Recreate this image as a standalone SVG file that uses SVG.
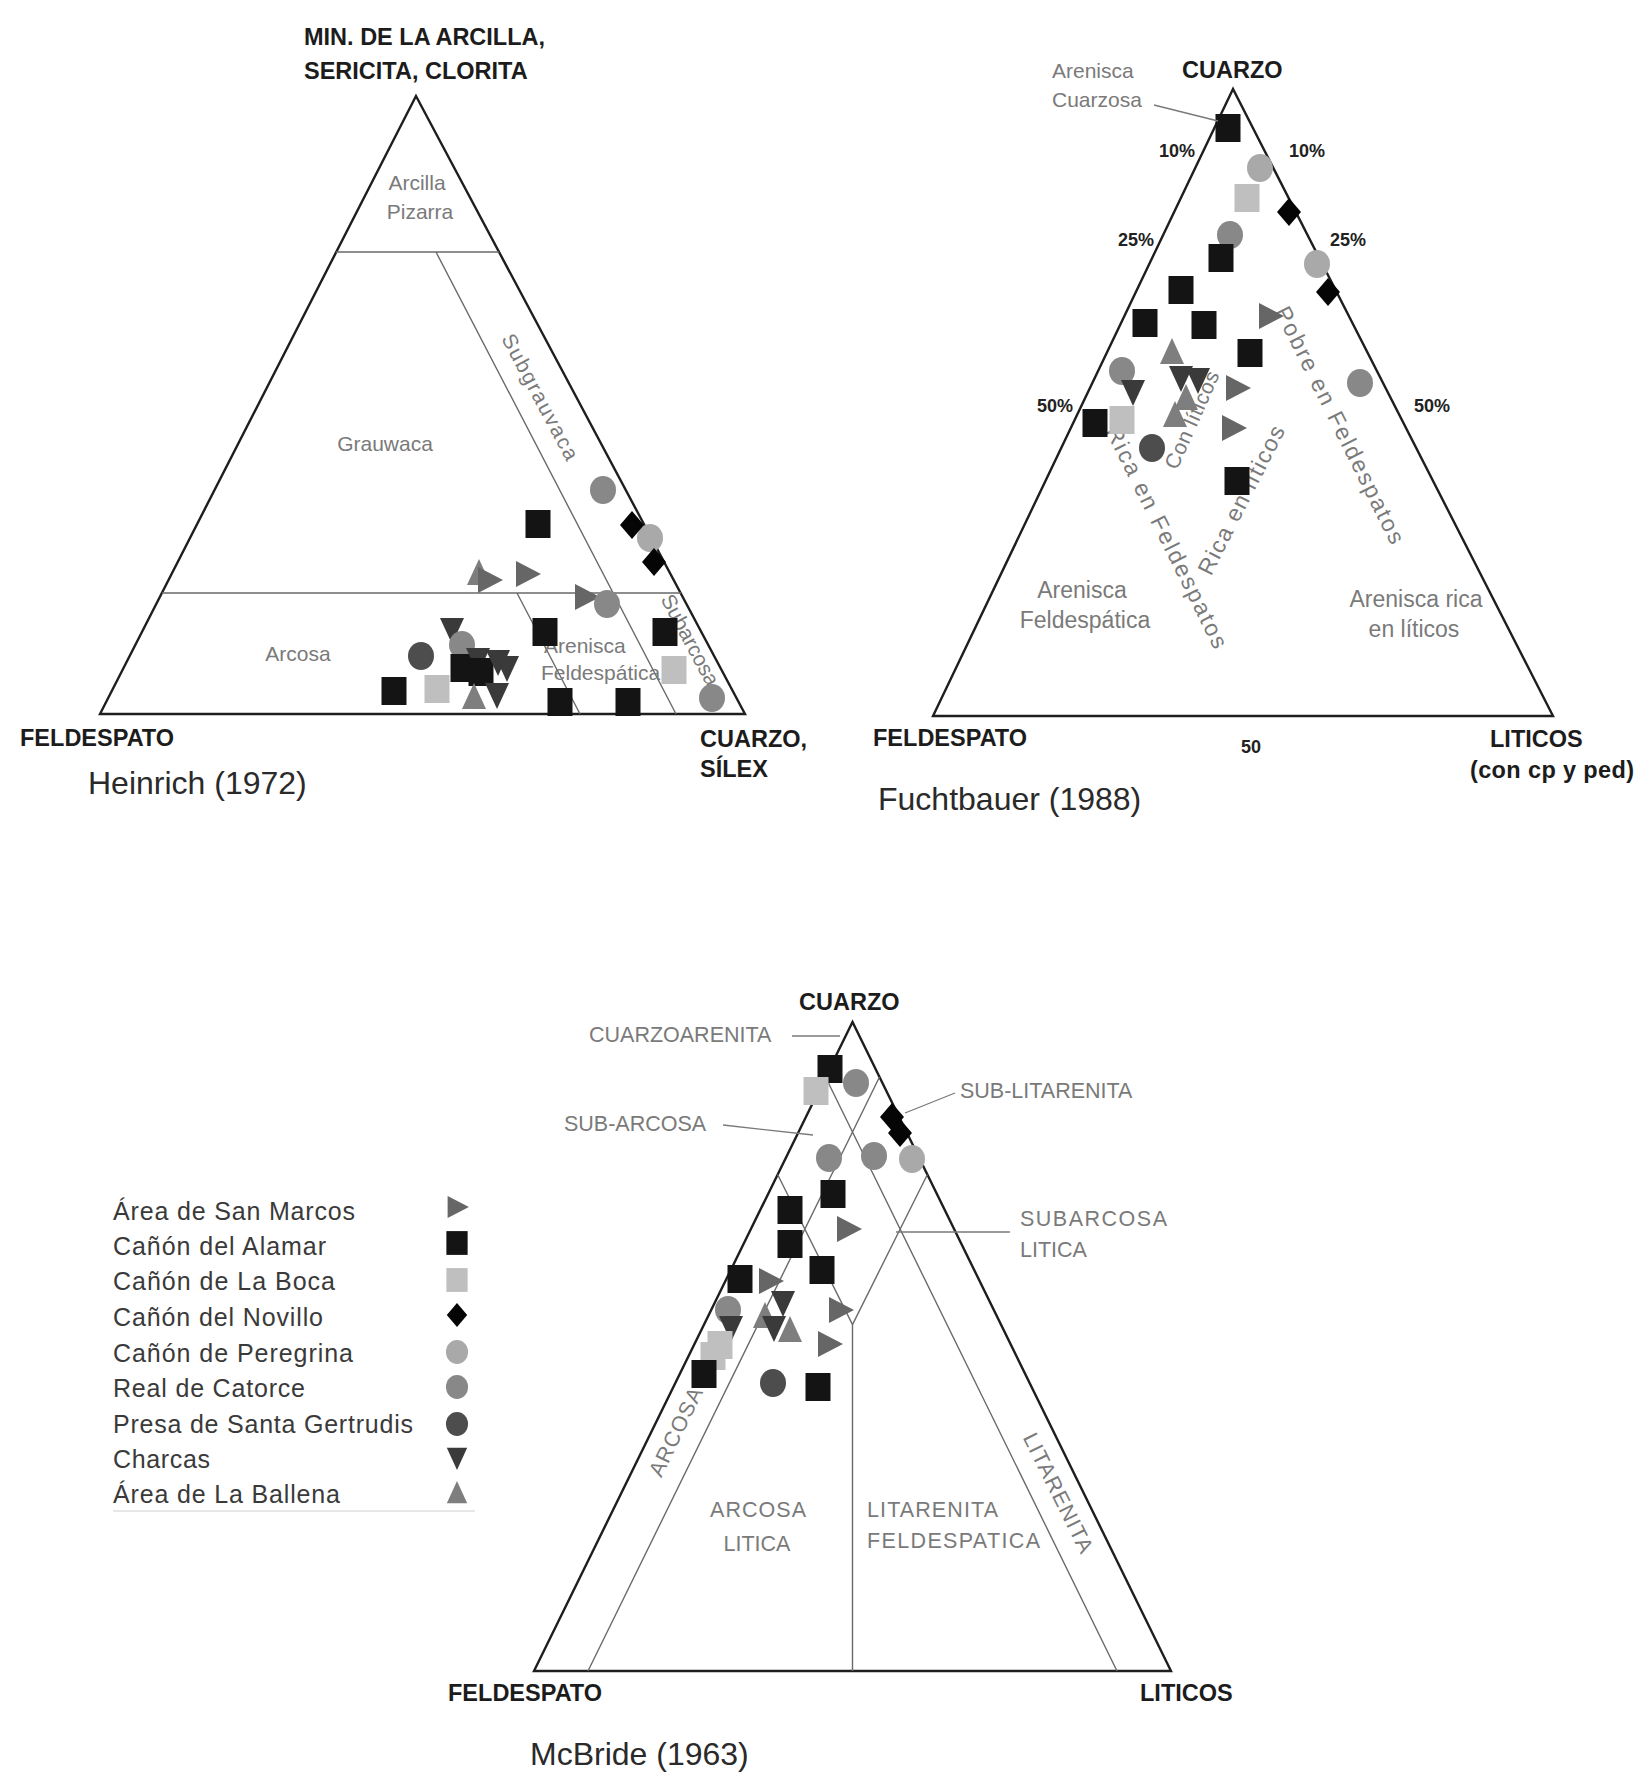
<svg xmlns="http://www.w3.org/2000/svg" width="1639" height="1777" viewBox="0 0 1639 1777">
<style>
text{font-family:"Liberation Sans",Arial,sans-serif}
.ax{font-weight:bold;font-size:23.5px;fill:#1c1c1c}
.ttl{font-size:32px;fill:#2a2a2a}
.rg{font-size:21px;fill:#7a7a7a}
.pc{font-weight:bold;font-size:18px;fill:#222}
.lg{font-size:25px;fill:#3a3a3a}
.edge{fill:none;stroke:#1e1e1e;stroke-width:2.4;stroke-linejoin:miter}
.inn{fill:none;stroke:#6a6a6a;stroke-width:1.4}
.lead{fill:none;stroke:#7a7a7a;stroke-width:1.3}
.sm{fill:#666}
.al{fill:#141414}
.lb{fill:#bfbfbf}
.nv{fill:#050505}
.pe{fill:#a9a9a9}
.rc{fill:#888}
.sg{fill:#4d4d4d}
.ch{fill:#3a3a3a}
.ba{fill:#7e7e7e}
</style>
<defs>
<rect id="sq" x="-12.5" y="-14" width="25" height="28"/>
<ellipse id="ci" rx="13" ry="14"/>
<path id="dm" d="M0,-14L12,0L0,14L-12,0Z"/>
<path id="tr" d="M-11,-13L14,0L-11,13Z"/>
<path id="td" d="M-12,-12L12,-12L0,14Z"/>
<path id="tu" d="M0,-14L12,12L-12,12Z"/>
</defs>
<rect width="1639" height="1777" fill="#fff"/>

<g id="heinrich">
<path class="edge" d="M416,96L100,714L745,714Z"/>
<path class="inn" d="M336,252H499M436,252L676,714M162,593H681M517,593L580,714"/>
<text class="ax" x="304" y="45">MIN. DE LA ARCILLA,</text>
<text class="ax" x="304" y="79">SERICITA, CLORITA</text>
<text class="ax" x="20" y="746">FELDESPATO</text>
<text class="ax" x="700" y="747">CUARZO,</text>
<text class="ax" x="700" y="777">SÍLEX</text>
<text class="ttl" x="88" y="794">Heinrich (1972)</text>
<text class="rg" x="417" y="190" text-anchor="middle">Arcilla</text>
<text class="rg" x="420" y="219" text-anchor="middle">Pizarra</text>
<text class="rg" x="385" y="451" text-anchor="middle">Grauwaca</text>
<text class="rg" x="298" y="661" text-anchor="middle">Arcosa</text>
<text class="rg" x="544" y="653">Arenisca</text>
<text class="rg" x="541" y="680">Feldespática</text>
<text class="rg" transform="translate(540,397) rotate(62)" y="7" text-anchor="middle" textLength="140">Subgrauvaca</text>
<text class="rg" transform="translate(690,640) rotate(62)" y="7" text-anchor="middle">Subarcosa</text>
<use href="#ci" class="rc" x="603" y="490"/>
<use href="#sq" class="al" x="538" y="524"/>
<use href="#ci" class="pe" x="650" y="538"/>
<use href="#dm" class="nv" x="632" y="525"/>
<use href="#dm" class="nv" x="654" y="562"/>
<use href="#tu" class="ba" x="479" y="573"/>
<use href="#tr" class="sm" x="489" y="580"/>
<use href="#tr" class="sm" x="527" y="574"/>
<use href="#tr" class="sm" x="586" y="597"/>
<use href="#ci" class="rc" x="607" y="604"/>
<use href="#sq" class="al" x="545" y="632"/>
<use href="#sq" class="al" x="665" y="632"/>
<use href="#sq" class="lb" x="674" y="670"/>
<use href="#ci" class="rc" x="712" y="698"/>
<use href="#sq" class="al" x="560" y="702"/>
<use href="#sq" class="al" x="628" y="702"/>
<use href="#ci" class="sg" x="421" y="656"/>
<use href="#sq" class="al" x="394" y="691"/>
<use href="#sq" class="lb" x="437" y="689"/>
<use href="#td" class="ch" x="452" y="630"/>
<use href="#ci" class="rc" x="462" y="645"/>
<use href="#sq" class="al" x="463" y="668"/>
<use href="#td" class="ch" x="478" y="660"/>
<use href="#sq" class="al" x="481" y="672"/>
<use href="#td" class="ch" x="498" y="662"/>
<use href="#td" class="ch" x="507" y="668"/>
<use href="#tu" class="ba" x="474" y="697"/>
<use href="#td" class="ch" x="497" y="695"/>
</g>

<g id="fuchtbauer">
<path class="edge" d="M1233,89L933,716L1553,716Z"/>
<text class="ax" x="1182" y="78">CUARZO</text>
<text class="rg" x="1052" y="78">Arenisca</text>
<text class="rg" x="1052" y="107">Cuarzosa</text>
<text class="pc" x="1195" y="157" text-anchor="end">10%</text>
<text class="pc" x="1289" y="157">10%</text>
<text class="pc" x="1154" y="246" text-anchor="end">25%</text>
<text class="pc" x="1330" y="246">25%</text>
<text class="pc" x="1073" y="412" text-anchor="end">50%</text>
<text class="pc" x="1414" y="412">50%</text>
<text class="pc" x="1251" y="753" text-anchor="middle">50</text>
<text class="ax" x="873" y="746">FELDESPATO</text>
<text class="ax" x="1490" y="747">LITICOS</text>
<text class="ax" x="1470" y="778" textLength="164">(con cp y ped)</text>
<text class="ttl" x="878" y="810">Fuchtbauer (1988)</text>
<text class="rg" style="font-size:23px" x="1082" y="598" text-anchor="middle">Arenisca</text>
<text class="rg" style="font-size:23px" x="1085" y="628" text-anchor="middle">Feldespática</text>
<text class="rg" style="font-size:23px" x="1416" y="607" text-anchor="middle">Arenisca rica</text>
<text class="rg" style="font-size:23px" x="1414" y="637" text-anchor="middle">en líticos</text>
<text class="rg" style="font-size:23px" transform="translate(1167,537) rotate(63.5)" y="8" text-anchor="middle" textLength="245">Rica en Feldespatos</text>
<text class="rg" style="font-size:23px" transform="translate(1241,500) rotate(-63)" y="8" text-anchor="middle" textLength="164">Rica en líticos</text>
<text class="rg" style="font-size:23px" transform="translate(1340,425) rotate(63.5)" y="8" text-anchor="middle" textLength="262">Pobre en Feldespatos</text>
<text class="rg" style="font-size:21px" transform="translate(1192,420) rotate(-66)" y="7" text-anchor="middle" textLength="105">Con líticos</text>
<use href="#sq" class="al" x="1228" y="128"/>
<use href="#ci" class="pe" x="1260" y="168"/>
<use href="#sq" class="lb" x="1247" y="198"/>
<use href="#dm" class="nv" x="1289" y="212"/>
<use href="#ci" class="rc" x="1230" y="235"/>
<use href="#sq" class="al" x="1221" y="258"/>
<use href="#ci" class="pe" x="1317" y="264"/>
<use href="#dm" class="nv" x="1328" y="292"/>
<use href="#sq" class="al" x="1181" y="290"/>
<use href="#sq" class="al" x="1145" y="323"/>
<use href="#sq" class="al" x="1204" y="325"/>
<use href="#sq" class="al" x="1250" y="353"/>
<use href="#tr" class="sm" x="1270" y="316"/>
<use href="#ci" class="rc" x="1360" y="383"/>
<use href="#ci" class="rc" x="1122" y="371"/>
<use href="#td" class="ch" x="1133" y="392"/>
<use href="#sq" class="al" x="1095" y="423"/>
<use href="#sq" class="lb" x="1122" y="420"/>
<use href="#tu" class="ba" x="1172" y="352"/>
<use href="#td" class="ch" x="1181" y="378"/>
<use href="#td" class="ch" x="1198" y="380"/>
<use href="#tu" class="ba" x="1186" y="398"/>
<use href="#tu" class="ba" x="1175" y="415"/>
<use href="#tr" class="sm" x="1237" y="388"/>
<use href="#tr" class="sm" x="1233" y="428"/>
<use href="#ci" class="sg" x="1152" y="448"/>
<use href="#sq" class="al" x="1237" y="481"/>
</g>

<g id="mcbride">
<path class="edge" d="M852.5,1022L534,1671L1171,1671Z"/>
<path class="inn" d="M879.5,1077L588,1671M825.5,1077L1117,1671M927.4,1174.5L852.5,1324.6M777.6,1174.5L852.5,1324.6M852.5,1324.6V1671"/>
<text class="ax" x="799" y="1010">CUARZO</text>
<text class="rg" style="font-size:21.5px" x="589" y="1042">CUARZOARENITA</text>
<text class="rg" style="font-size:21.5px" x="960" y="1098">SUB-LITARENITA</text>
<text class="rg" style="font-size:21.5px" x="564" y="1131">SUB-ARCOSA</text>
<text class="rg" style="font-size:21.5px" x="1020" y="1226" textLength="147">SUBARCOSA</text>
<text class="rg" style="font-size:21.5px" x="1020" y="1257">LITICA</text>
<text class="rg" style="font-size:21.5px" transform="translate(676,1432) rotate(-64)" y="7" text-anchor="middle" textLength="96">ARCOSA</text>
<text class="rg" style="font-size:21.5px" x="758" y="1517" text-anchor="middle" textLength="96">ARCOSA</text>
<text class="rg" style="font-size:21.5px" x="757" y="1551" text-anchor="middle">LITICA</text>
<text class="rg" style="font-size:21.5px" x="867" y="1517" textLength="131">LITARENITA</text>
<text class="rg" style="font-size:21.5px" x="867" y="1548" textLength="173">FELDESPATICA</text>
<text class="rg" style="font-size:21.5px" transform="translate(1058,1493) rotate(63.5)" y="7" text-anchor="middle" textLength="131">LITARENITA</text>
<text class="ax" x="448" y="1701">FELDESPATO</text>
<text class="ax" x="1140" y="1701">LITICOS</text>
<text class="ttl" x="530" y="1765">McBride (1963)</text>
<use href="#sq" class="al" x="830" y="1069"/>
<use href="#sq" class="lb" x="816" y="1091"/>
<use href="#ci" class="rc" x="856" y="1083"/>
<use href="#dm" class="nv" x="892" y="1117"/>
<use href="#dm" class="nv" x="900" y="1133"/>
<use href="#ci" class="rc" x="829" y="1158"/>
<use href="#ci" class="rc" x="874" y="1156"/>
<use href="#ci" class="pe" x="912" y="1159"/>
<use href="#sq" class="al" x="833" y="1194"/>
<use href="#sq" class="al" x="790" y="1210"/>
<use href="#sq" class="al" x="790" y="1244"/>
<use href="#tr" class="sm" x="848" y="1229"/>
<use href="#sq" class="al" x="822" y="1270"/>
<use href="#sq" class="al" x="740" y="1279"/>
<use href="#tr" class="sm" x="770" y="1281"/>
<use href="#tr" class="sm" x="840" y="1310"/>
<use href="#tr" class="sm" x="829" y="1344"/>
<use href="#td" class="ch" x="783" y="1303"/>
<use href="#tu" class="ba" x="765" y="1316"/>
<use href="#td" class="ch" x="774" y="1328"/>
<use href="#tu" class="ba" x="790" y="1330"/>
<use href="#ci" class="rc" x="728" y="1310"/>
<use href="#td" class="ch" x="731" y="1328"/>
<use href="#sq" class="lb" x="720" y="1345"/>
<use href="#sq" class="lb" x="713" y="1356"/>
<use href="#sq" class="al" x="704" y="1374"/>
<use href="#ci" class="sg" x="773" y="1383"/>
<use href="#sq" class="al" x="818" y="1387"/>
</g>

<g id="legend">
<text class="lg" x="113" y="1220" textLength="242">Área de San Marcos</text>
<text class="lg" x="113" y="1255" textLength="213">Cañón del Alamar</text>
<text class="lg" x="113" y="1290" textLength="222">Cañón de La Boca</text>
<text class="lg" x="113" y="1326" textLength="210">Cañón del Novillo</text>
<text class="lg" x="113" y="1362" textLength="240">Cañón de Peregrina</text>
<text class="lg" x="113" y="1397" textLength="192">Real de Catorce</text>
<text class="lg" x="113" y="1433" textLength="300">Presa de Santa Gertrudis</text>
<text class="lg" x="113" y="1468" textLength="97">Charcas</text>
<text class="lg" x="113" y="1503" textLength="227">Área de La Ballena</text>
<use href="#tr" class="sm" transform="translate(457,1207) scale(0.85)"/>
<use href="#sq" class="al" transform="translate(457,1243) scale(0.85)"/>
<use href="#sq" class="lb" transform="translate(457,1280) scale(0.85)"/>
<use href="#dm" class="nv" transform="translate(457,1315) scale(0.85)"/>
<use href="#ci" class="pe" transform="translate(457,1352) scale(0.85)"/>
<use href="#ci" class="rc" transform="translate(457,1387) scale(0.85)"/>
<use href="#ci" class="sg" transform="translate(457,1424) scale(0.85)"/>
<use href="#td" class="ch" transform="translate(457,1458) scale(0.85)"/>
<use href="#tu" class="ba" transform="translate(457,1493) scale(0.85)"/>
<path d="M113,1511H475" stroke="#d0d0d0" stroke-width="1.2"/>
</g>

<g id="connectors">
<path class="lead" d="M1154,105L1218,121"/>
<path class="lead" d="M792,1036H840"/>
<path class="lead" d="M955,1093L905,1113"/>
<path class="lead" d="M723,1125L813,1135"/>
<path class="lead" d="M896,1232H1010"/>
</g>
</svg>
